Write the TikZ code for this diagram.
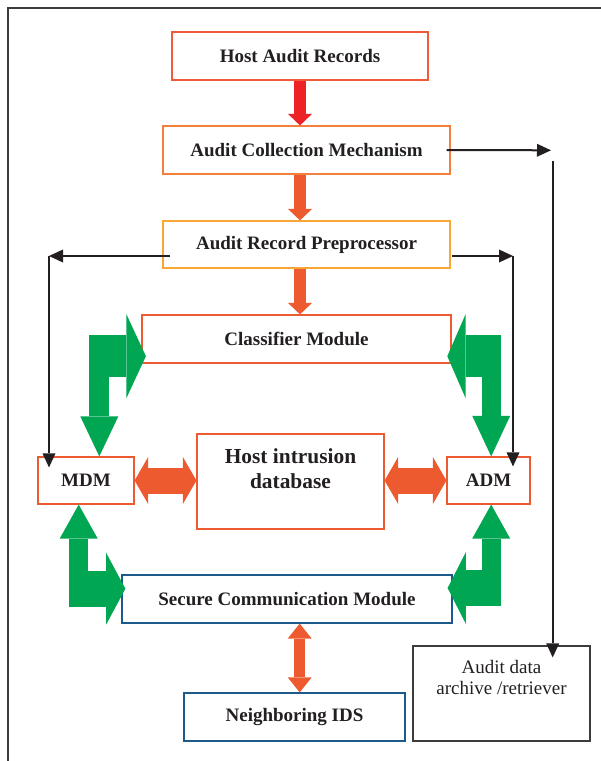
\documentclass[tikz,border=0pt]{standalone}
\usepackage{fontspec}
\setmainfont{Liberation Serif}
\usepackage{tikz}
\usetikzlibrary{calc,arrows.meta}

\definecolor{txtc}{HTML}{231F20}
\definecolor{framec}{HTML}{3C3C3C}
\definecolor{redc}{HTML}{ED2227}
\definecolor{orngc}{HTML}{EE5A2F}
\definecolor{grnc}{HTML}{00A651}
\definecolor{bluec}{HTML}{1D5A8C}
\definecolor{harc}{HTML}{F15A3A}
\definecolor{acmc}{HTML}{F47E3C}
\definecolor{arpc}{HTML}{F8A634}

\tikzset{
	box/.style={draw, line width=1.2pt, inner sep=0pt, text=txtc, align=center, font=\bfseries\fontsize{19}{21}\selectfont},
	wire/.style={draw=txtc, line width=2pt, -{Triangle[length=14pt,width=13pt,line width=0pt]}},
	redarr/.style={draw=#1, line width=12pt, -{Triangle[length=11.5pt,width=24pt,line width=0pt]}},
	dblarr/.style={draw=orngc, line width=26pt, {Triangle[length=13.5pt,width=47pt,line width=0pt]}-{Triangle[length=13.5pt,width=47pt,line width=0pt]}},
	gbarh/.style 2 args={draw=grnc, line width=#1, -{Triangle[length=#2,width=2*#1,line width=0pt]}},
	gbarv/.style 2 args={draw=grnc, line width=#1, -{Triangle[length=#2,width=38pt,line width=0pt]}}
}

\begin{document}
\begin{tikzpicture}[x=1pt,y=-1pt]
	\useasboundingbox (0,0) rectangle (601,761);
	\draw[framec, line width=1.8pt] (601,8) -- (8,8) -- (8,761);
	
	% boxes
	\node[box, draw=harc, minimum width=256pt, minimum height=48pt] (har) at (300,56) {Host Audit Records};
	\node[box, draw=acmc, minimum width=287pt, minimum height=48pt] (acm) at (306.5,150) {Audit Collection Mechanism};
	\node[box, draw=arpc, minimum width=287pt, minimum height=47pt] (arp) at (306.5,244.5) {Audit Record Preprocessor};
	\node[box, draw=orngc, minimum width=309pt, minimum height=48pt] (clf) at (296.5,339) {Classifier Module};
	\node[box, draw=orngc, minimum width=187pt, minimum height=95pt, font=\bfseries\fontsize{21.4}{25}\selectfont] (hid) at (290.5,481.5) {Host intrusion\\database\\[0pt]\mbox{}};
	\node[box, draw=orngc, minimum width=96pt, minimum height=47pt] (mdm) at (86,480.5) {MDM};
	\node[box, draw=orngc, minimum width=83pt, minimum height=47pt] (adm) at (488.5,480.5) {ADM};
	\node[box, draw=bluec, minimum width=330pt, minimum height=48pt] (scm) at (287,599) {Secure Communication Module};
	\node[box, draw=bluec, minimum width=221pt, minimum height=48pt] (nids) at (294.5,717) {Neighboring IDS};
	\node[box, draw=framec, minimum width=177pt, minimum height=95pt, font=\fontsize{19}{21}\selectfont] (arc) at (501.5,693.5) {Audit data\\archive /retriever\\[11pt]\mbox{}};
	
	% main flow
	\draw[redarr=redc] (har.south) -- (har.south |- acm.north);
	\draw[redarr=orngc] (har.south |- acm.south) -- (har.south |- arp.north);
	\draw[redarr=orngc] (har.south |- arp.south) -- (har.south |- clf.north);
	\draw[dblarr] (mdm.east) -- (hid.west |- mdm.east);
	\draw[dblarr] (hid.east |- adm.west) -- (adm.west);
	\draw[orngc, line width=10.5pt, {Triangle[length=15pt,width=24pt,line width=0pt]}-{Triangle[length=15pt,width=24pt,line width=0pt]}] ($(scm.south)+(12.7,0)$) -- ($(nids.north)+(5.2,0)$);
	
	% black lines
	\coordinate (tr1) at (551,150.3);
	\coordinate (tr2) at (552.7,160.7);
	\coordinate (pl) at (49,256);
	\coordinate (pr) at (513,256);
	\draw[wire] ($(acm.east)+(-4,0)$) -- (tr1);
	\draw[wire, shorten >=-12pt] (tr2) -- (tr2 |- arc.north);
	\draw[wire] ($(arp.west |- pl)+(8,0)$) -- (pl);
	\draw[wire, shorten >=-11pt] (pl) -- (pl |- mdm.north);
	\draw[wire] ($(arp.east |- pr)+(1,0)$) -- (pr);
	\draw[wire, shorten >=-10pt] (pr) -- (pr |- adm.north);
	
	% green arrows
	\coordinate (gUL) at (99.3,356.2);
	\coordinate (gLL) at (78.7,588.7);
	\coordinate (gUR) at (491.2,356.2);
	\coordinate (gLR) at (491.2,588);
	\draw[gbarh={42pt}{19.5pt}, shorten >=-4.5pt] ($(gUL)+(-10,0)$) -- (gUL -| clf.west);
	\draw[gbarv={20pt}{40pt}] ($(gUL)+(0,-21.2)$) -- (gUL |- mdm.north);
	\draw[gbarv={19.3pt}{34pt}] ($(gLL)+(0,18)$) -- (gLL |- mdm.south);
	\draw[gbarh={36pt}{19.3pt}, shorten >=-4pt] ($(gLL)+(-9.7,0)$) -- (gLL -| scm.west);
	\draw[gbarh={42pt}{18.3pt}, shorten >=-4.3pt] ($(gUR)+(9.5,0)$) -- (gUR -| clf.east);
	\draw[gbarv={19pt}{40.6pt}] ($(gUR)+(0,-21.2)$) -- (gUR |- adm.north);
	\draw[gbarv={19pt}{34pt}] ($(gLR)+(0,18)$) -- (gLR |- adm.south);
	\draw[gbarh={36pt}{18.3pt}, shorten >=-5pt] ($(gLR)+(9.5,0)$) -- (gLR -| scm.east);
\end{tikzpicture}
\end{document}
